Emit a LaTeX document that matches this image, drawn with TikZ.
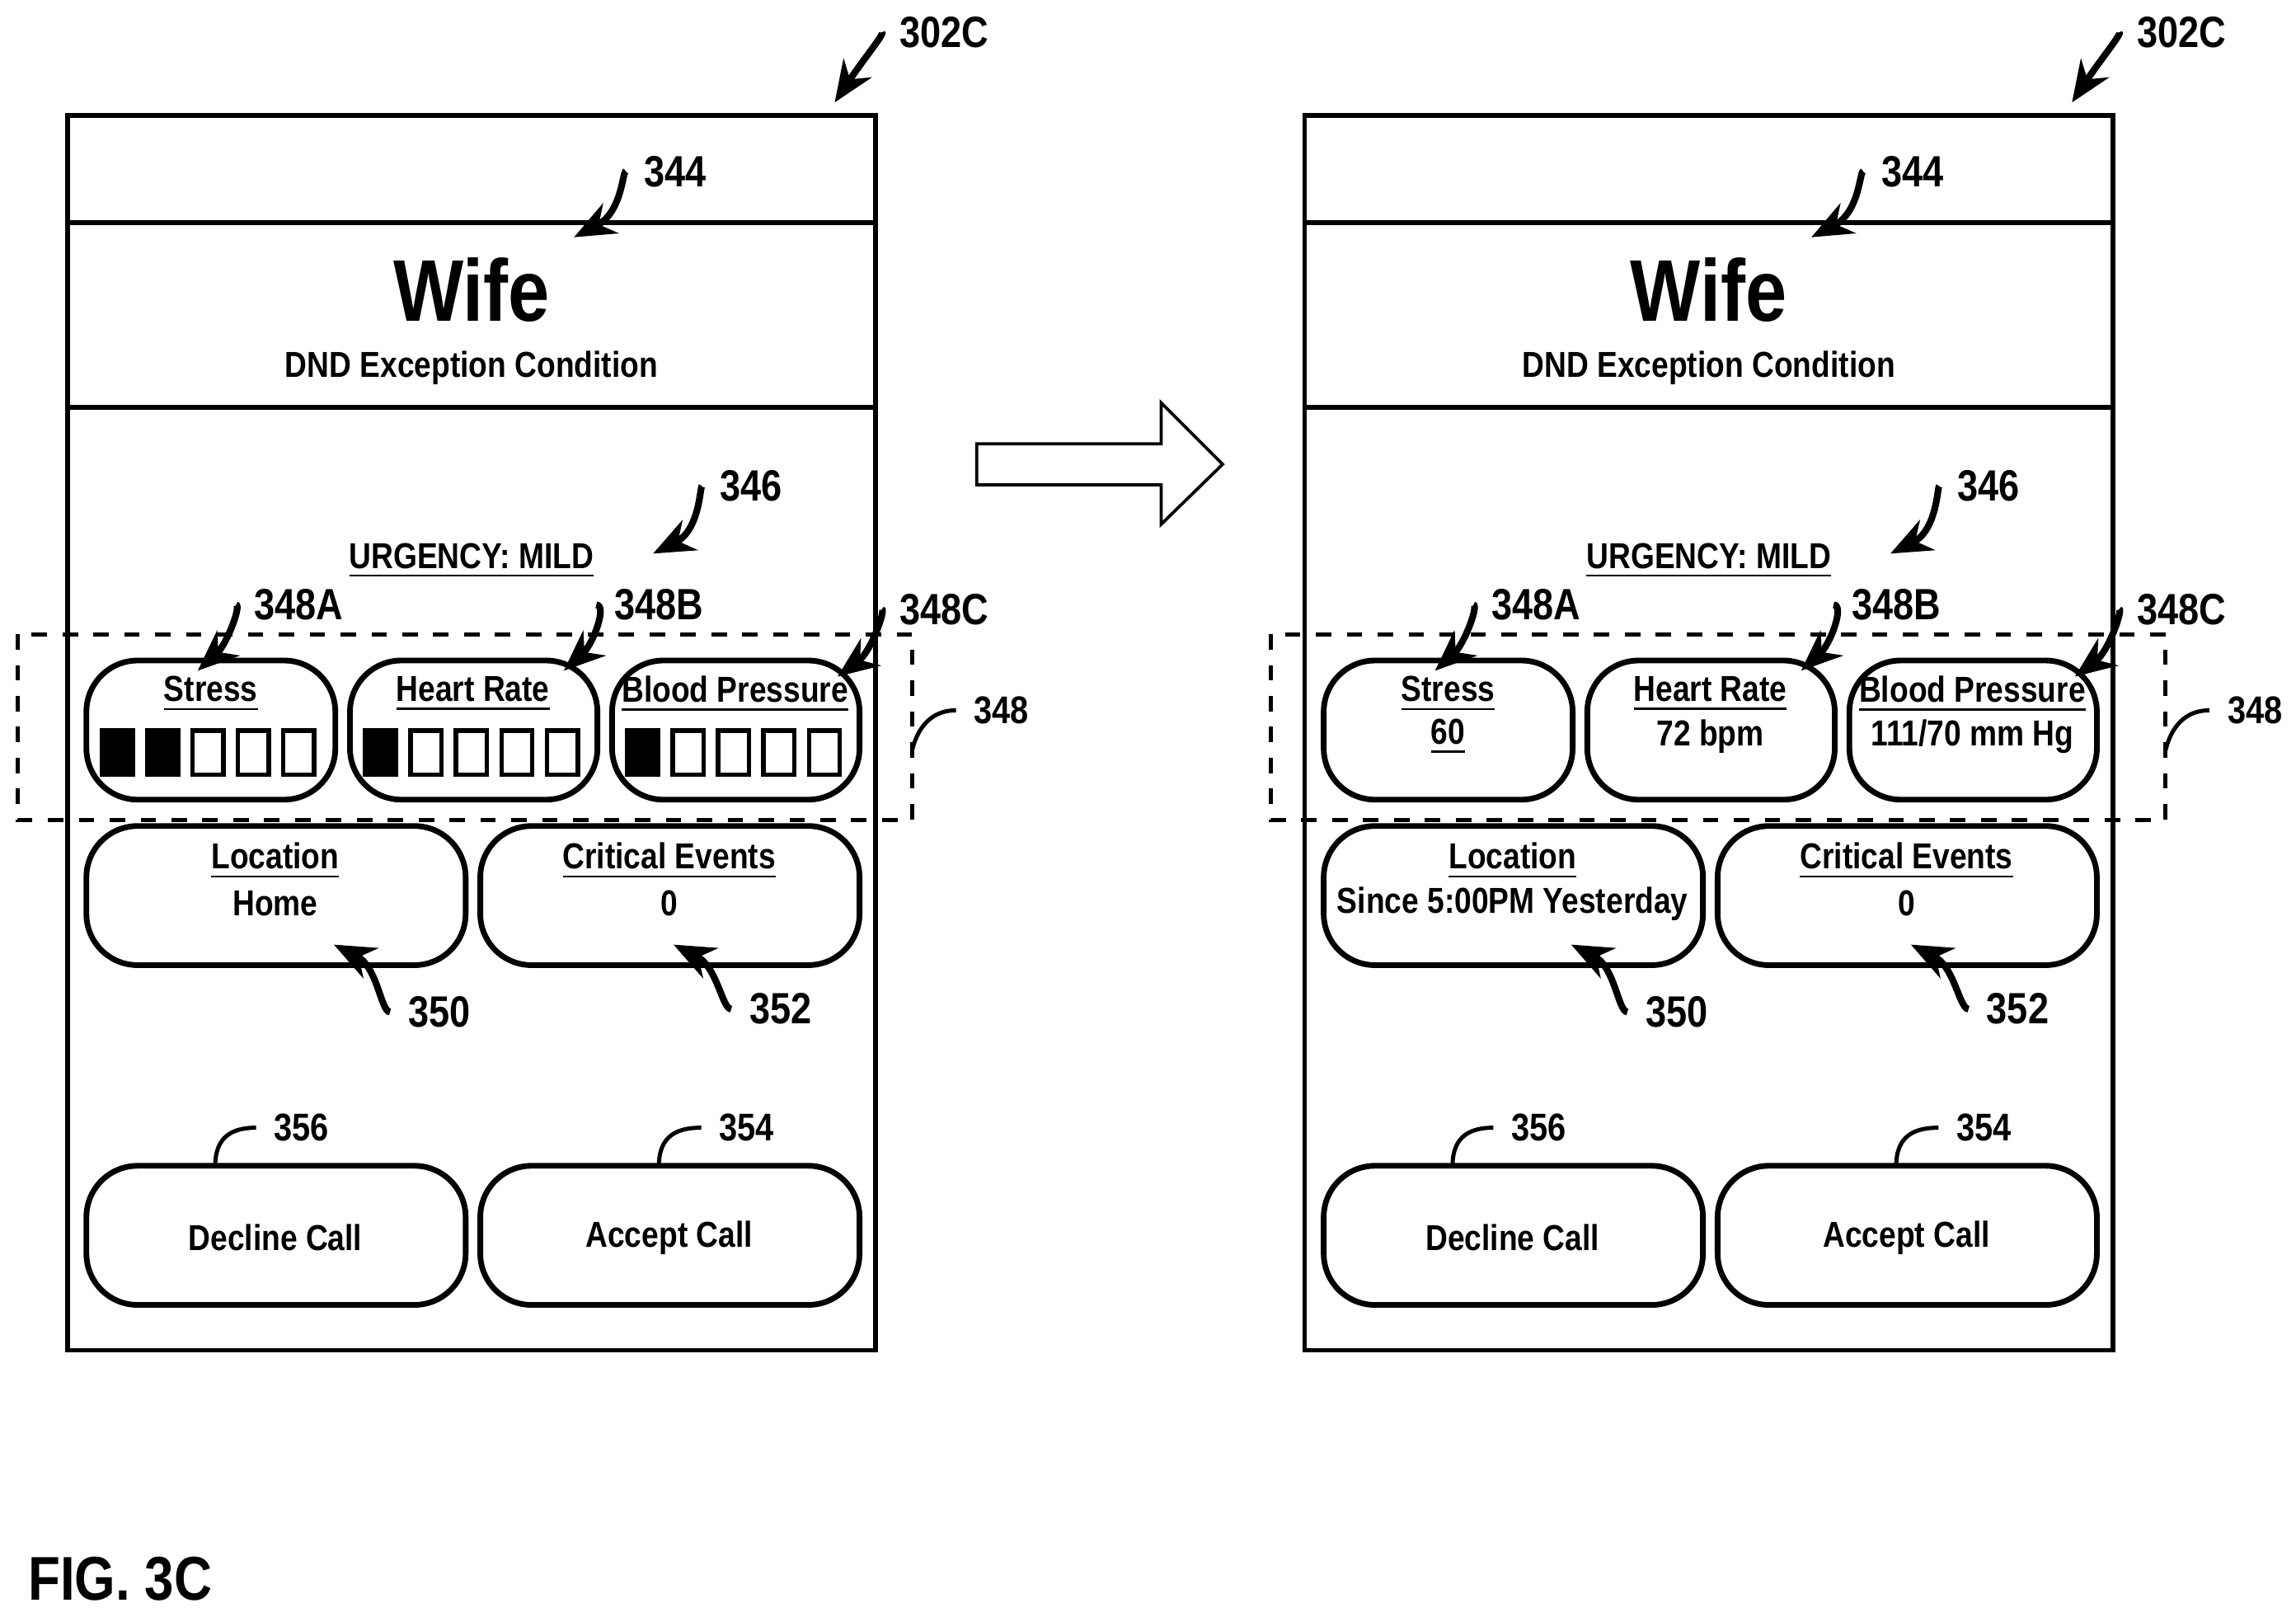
\documentclass[tikz,border=0pt]{standalone}
\usepackage{fontspec}
\setmainfont{Liberation Sans}[FakeStretch=0.85]
\usetikzlibrary{arrows.meta}
\begin{document}
\begin{tikzpicture}[x=0.01cm,y=-0.01cm,font=\bfseries\fontsize{7}{9}\selectfont,
 box/.style={draw,line width=1.1pt,rounded corners=0.35cm},
 frame/.style={draw,line width=0.9pt},
 ptr/.style={line width=1.3pt,-{Stealth[length=8pt,width=6.5pt]}},
 lead/.style={line width=0.8pt},
 lbl/.style={font=\bfseries\fontsize{8.5}{10}\selectfont},
 sml/.style={font=\bfseries\fontsize{7.5}{9}\selectfont},
 sq/.style={draw,line width=0.9pt,minimum width=0.21cm,minimum height=0.3cm,inner sep=0}]
\useasboundingbox (0,0) rectangle (1568,1104);
\foreach \s/\mode/\d in {0/A/0,845/B/11}{
\begin{scope}[xshift=\s*0.01cm]
\draw[frame] (46,79) rectangle (598,922);
\draw[frame] (46,152)--(598,152) (46,278)--(598,278);
\node[font=\bfseries\fontsize{17}{20}\selectfont] (wife) at (322,198) {Wife};
\node (dnd) at (322,251) {DND Exception Condition};
\node[lbl] (l302) at (645,22) {302C};
\draw[ptr] (l302.west) .. controls (605,22) and (590,40) .. (570,70);
\node[lbl] (l344) at (461,117) {344};
\draw[ptr] (l344.west) .. controls (425,117) and (425,145) .. (392,162);
\node[lbl] (l346) at (513,332) {346};
\draw[ptr] (l346.west) .. controls (478,332) and (478,362) .. (446,378);
\node (urg) at (322,383) {\underline{URGENCY: MILD}};
\begin{scope}[xshift=\d*0.01cm]
\draw[dashed,line width=0.8pt] (12,433) rectangle (623,560);
\node[sml] (l348) at (684,485) {348};
\coordinate (d348) at (623,512);
\draw[lead] (l348.west) .. controls (640,485) and (628,492) .. (d348);
\end{scope}
\draw[box] (59,451) rectangle (229,546);
\draw[box] (239,451) rectangle (408,546);
\draw[box] (418,451) rectangle (587,546);
\node (st) at (144,474) {\underline{Stress}};
\node (hr) at (323,474) {\underline{Heart Rate}};
\node (bp) at (502,474) {\underline{Blood Pressure}};
\if\mode A
 \foreach \x/\c in {0/black,1/black,2/white,3/white,4/white}{\node[sq,fill=\c] at (80+31*\x,514) {};}
 \foreach \x/\c in {0/black,1/white,2/white,3/white,4/white}{\node[sq,fill=\c] at (260+31*\x,514) {};}
 \foreach \x/\c in {0/black,1/white,2/white,3/white,4/white}{\node[sq,fill=\c] at (439+31*\x,514) {};}
 \node at (188,617) {Home};
\else
 \node at (144,503) {\underline{60}};
 \node at (323,503) {72 bpm};
 \node at (502,503) {111/70 mm Hg};
 \node at (188,617) {Since 5:00PM Yesterday};
\fi
\node[lbl] (la) at (204,413) {348A};
\draw[ptr] (la.west) .. controls (165,413) and (155,440) .. (135,458);
\node[lbl] (lb) at (450,413) {348B};
\draw[ptr] (lb.west) .. controls (415,413) and (405,440) .. (385,458);
\node[lbl] (lc) at (645,416) {348C};
\draw[ptr] (lc.west) .. controls (605,416) and (595,445) .. (572,462);
\draw[box] (59,564) rectangle (318,659);
\draw[box] (328,564) rectangle (587,659);
\node (loc) at (188,588) {\underline{Location}};
\node (ce) at (457,588) {\underline{Critical Events}};
\node at (457,617) {0};
\node[lbl] (l350) at (300,691) {350};
\draw[ptr] (l350.west) .. controls (260,691) and (258,660) .. (228,645);
\node[lbl] (l352) at (533,689) {352};
\draw[ptr] (l352.west) .. controls (493,689) and (490,660) .. (460,645);
\draw[box] (59,796) rectangle (318,891);
\draw[box] (328,796) rectangle (587,891);
\node (dec) at (188,845) {Decline Call};
\node (acc) at (457,845) {Accept Call};
\node[sml] (l356) at (206,770) {356};
\coordinate (d356) at (147,796);
\draw[lead] (l356.west) .. controls (160,770) and (147,775) .. (d356);
\node[sml] (l354) at (510,770) {354};
\coordinate (d354) at (450,796);
\draw[lead] (l354.west) .. controls (463,770) and (450,775) .. (d354);
\end{scope}}
\draw[line width=0.6pt] (667,303)--(793,303)--(793,275)--(835,317)--(793,358)--(793,331)--(667,331)--cycle;
\node[font=\bfseries\fontsize{12}{14}\selectfont] (fig) at (82,1078) {FIG. 3C};
\end{tikzpicture}
\end{document}
